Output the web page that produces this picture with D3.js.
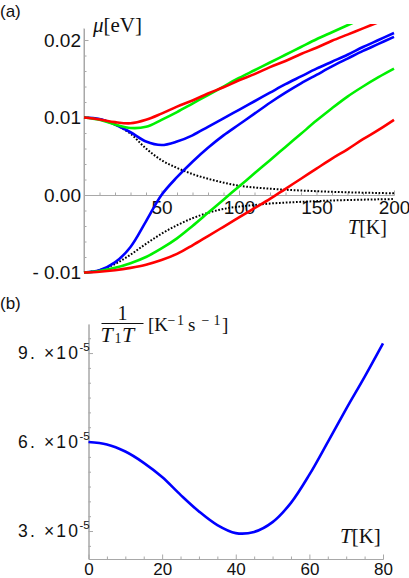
<!DOCTYPE html>
<html><head><meta charset="utf-8">
<script src="https://cdn.jsdelivr.net/npm/d3@7"></script>
<style>
body{margin:0;background:#fff}
.sans{font-family:"Liberation Sans",Arial,sans-serif;fill:#111}
.serif{font-family:"Liberation Serif","Times New Roman",serif;fill:#111}
</style>
</head><body>
<svg id="c" width="409" height="578" xmlns="http://www.w3.org/2000/svg"></svg>
<script>
// ---------- Panel (a): chemical potential mu [eV] vs T [K] ----------
const tempA   = [0,10,20,30,40,50,60,70,80,90,100,110,120,130,140,150,160,170,180,190,200];
const redUp   = [0.0100,0.00975,0.0094,0.00925,0.0097,0.0105,0.0114,0.0122,0.0131,0.0139,0.0148,0.0156,0.0165,0.0173,0.0182,0.0190,0.0199,0.0207,0.0215,0.0223,0.0231];
const greenUp = [0.0100,0.0097,0.0091,0.00865,0.0088,0.0097,0.0107,0.0118,0.0129,0.0140,0.0151,0.0161,0.0171,0.0181,0.0191,0.0201,0.0210,0.0219,0.0228,0.0237,0.0245];
const blueUp  = [0.0100,0.0098,0.0091,0.0081,0.0069,0.00645,0.0069,0.0077,0.0088,0.0099,0.0110,0.0121,0.0132,0.0143,0.0153,0.0163,0.0172,0.0181,0.0191,0.0200,0.0209];
const dotUp   = [0.0100,0.0098,0.0091,0.0079,0.0060,0.0045,0.0035,0.0027,0.0021,0.0016,0.0012,0.00097,0.00081,0.00068,0.00058,0.00049,0.00041,0.00035,0.00030,0.00026,0.00022];
const blueLow = [-0.0100,-0.0097,-0.0087,-0.0067,-0.0034,0.0000,0.0023,0.0043,0.0061,0.0077,0.0091,0.0105,0.0119,0.0132,0.0144,0.0155,0.0166,0.0176,0.0186,0.0195,0.0204];
const greenLow= [-0.0100,-0.0098,-0.0094,-0.0088,-0.0080,-0.0069,-0.0056,-0.0040,-0.0023,-0.0006,0.0011,0.0028,0.0045,0.0062,0.0079,0.0096,0.0112,0.0127,0.0140,0.0152,0.0163];
const redLow  = [-0.0100,-0.0099,-0.0097,-0.0094,-0.0090,-0.0084,-0.0076,-0.0065,-0.0053,-0.0041,-0.0029,-0.0017,-0.0005,0.0008,0.0021,0.0034,0.0047,0.0059,0.0072,0.0084,0.0097];
const dotLow  = [-0.0100,-0.0097,-0.0089,-0.0077,-0.0063,-0.0050,-0.0039,-0.0030,-0.0023,-0.0018,-0.0015,-0.0013,-0.0011,-0.00098,-0.00088,-0.00079,-0.00071,-0.00065,-0.00060,-0.00056,-0.00052];
const xTicksA = [50,100,150,200];
const xTickLabelsA = ["50","100","150","200"];
const xMinorA = [10,20,30,40,60,70,80,90,110,120,130,140,160,170,180,190];
const yTicksA = [-0.01,0,0.01,0.02];
const yTickLabelsA = ["- 0.01","0.00","0.01","0.02"];
const yMinorA = [-0.008,-0.006,-0.004,-0.002,0.002,0.004,0.006,0.008,0.012,0.014,0.016,0.018];

// ---------- Panel (b): 1/(T1 T) vs T ----------
const tempB = [0,5,10,15,20,25,30,35,40,45,50,55,60,65,70,75,80];
const rateB = [6.00e-5,5.92e-5,5.68e-5,5.30e-5,4.82e-5,4.22e-5,3.66e-5,3.20e-5,2.93e-5,2.97e-5,3.30e-5,3.95e-5,4.90e-5,6.00e-5,7.12e-5,8.20e-5,9.33e-5];
const xTicksB = [0,20,40,60,80];
const xTickLabelsB = ["0","20","40","60","80"];
const xMinorB = [5,10,15,25,30,35,45,50,55,65,70,75];
const yTicksB = [3e-5,6e-5,9e-5];
const yTickLabelsB = ["3. \u00d710","6. \u00d710","9. \u00d710"];
const yTickExpB = "-5";
const yMinorB = [2.5e-5,3.5e-5,4e-5,4.5e-5,5e-5,5.5e-5,6.5e-5,7e-5,7.5e-5,8e-5,8.5e-5,9.5e-5];

const AX = "#a8a8a8";
const svg = d3.select("#c");
const smooth = d3.curveCatmullRom.alpha(0.5);

function styleAxis(g){
  g.select(".domain").attr("stroke",AX).attr("stroke-width",1);
  g.selectAll(".tick line").attr("stroke",AX).attr("stroke-width",1);
}

// ===== Panel (a) =====
const xA = d3.scaleLinear().domain([0,200]).range([84,394]);
const yA = d3.scaleLinear().domain([-0.01,0.0215]).range([272.5,28.4]);

svg.append("defs").append("clipPath").attr("id","clipA")
  .append("rect").attr("x",80).attr("y",24).attr("width",329).attr("height",255);

const gxA = svg.append("g").attr("transform",`translate(0,${yA(0)})`);
gxA.call(d3.axisBottom(xA).tickValues(xMinorA).tickSize(-2.5).tickSizeOuter(0).tickFormat(""));
const gxA2 = svg.append("g").attr("transform",`translate(0,${yA(0)})`);
gxA2.call(d3.axisBottom(xA).tickValues(xTicksA).tickSize(-4.5).tickSizeOuter(0).tickPadding(6)
  .tickFormat((d,i)=>xTickLabelsA[i]));
[gxA,gxA2].forEach(styleAxis);
gxA2.selectAll("text").attr("class","sans").style("font-size","19px").attr("fill","#111");

const gyA = svg.append("g").attr("transform",`translate(${xA(0)},0)`);
gyA.call(d3.axisLeft(yA).tickValues(yMinorA).tickSize(-2.5).tickSizeOuter(0).tickFormat(""));
const gyA2 = svg.append("g").attr("transform",`translate(${xA(0)},0)`);
gyA2.call(d3.axisLeft(yA).tickValues(yTicksA).tickSize(-4.5).tickSizeOuter(0).tickPadding(3)
  .tickFormat((d,i)=>yTickLabelsA[i]));
[gyA,gyA2].forEach(styleAxis);
gyA2.selectAll("text").attr("class","sans").style("font-size","19px").attr("fill","#111");
gyA2.select(".domain").attr("d",`M0,${yA(-0.01)}V28.4`);

const lineA = vals => d3.line().x((d,i)=>xA(tempA[i])).y(d=>yA(d)).curve(smooth)(vals);
const gA = svg.append("g").attr("clip-path","url(#clipA)");
[[dotUp,"#000",true],[dotLow,"#000",true],
 [blueUp,"#0000ff"],[blueLow,"#0000ff"],
 [greenUp,"#00f000"],[greenLow,"#00f000"],
 [redUp,"#ff0000"],[redLow,"#ff0000"]].forEach(([v,c,dot])=>{
  gA.append("path").attr("d",lineA(v)).attr("fill","none").attr("stroke",c)
    .attr("stroke-width",dot?2:2.6)
    .attr("stroke-dasharray",dot?"1.7,1.7":null)
    .attr("stroke-linejoin","round");
});

svg.append("text").attr("class","sans").attr("x",0).attr("y",17).style("font-size","17px").text("(a)");
const muLab = svg.append("text").attr("class","serif").attr("x",93).attr("y",32).style("font-size","21px");
muLab.append("tspan").style("font-style","italic").text("\u03bc");
muLab.append("tspan").text("[eV]");
const tLabA = svg.append("text").attr("class","serif").attr("x",348).attr("y",234).style("font-size","20px");
tLabA.append("tspan").style("font-style","italic").text("T");
tLabA.append("tspan").text("[K]");

// ===== Panel (b) =====
const xB = d3.scaleLinear().domain([0,80]).range([88.5,383]);
const yB = d3.scaleLinear().domain([2.057e-5,9.98e-5]).range([559,324]);

const gxB = svg.append("g").attr("transform",`translate(0,${yB.range()[0]})`);
gxB.call(d3.axisBottom(xB).tickValues(xMinorB).tickSize(-2.5).tickSizeOuter(0).tickFormat(""));
const gxB2 = svg.append("g").attr("transform",`translate(0,${yB.range()[0]})`);
gxB2.call(d3.axisBottom(xB).tickValues(xTicksB).tickSize(-4.5).tickSizeOuter(0).tickPadding(4)
  .tickFormat((d,i)=>xTickLabelsB[i]));
[gxB,gxB2].forEach(styleAxis);
gxB2.selectAll("text").attr("class","sans").style("font-size","17px").attr("fill","#111");

const gyB = svg.append("g").attr("transform",`translate(${xB(0)},0)`);
gyB.call(d3.axisLeft(yB).tickValues(yMinorB).tickSize(-2.5).tickSizeOuter(0).tickFormat(""));
const gyB2 = svg.append("g").attr("transform",`translate(${xB(0)},0)`);
gyB2.call(d3.axisLeft(yB).tickValues(yTicksB).tickSize(-4.5).tickSizeOuter(0).tickFormat(""));
[gyB,gyB2].forEach(styleAxis);
yTicksB.forEach((v,i)=>{
  svg.append("text").attr("class","sans").attr("x",18).attr("y",yB(v)+6)
    .attr("textLength",60).attr("lengthAdjust","spacing")
    .style("font-size","17.5px").text(yTickLabelsB[i]);
  svg.append("text").attr("class","sans").attr("x",79.5).attr("y",yB(v)-2)
    .style("font-size","11.5px").text(yTickExpB);
});

const lineB = d3.line().x((d,i)=>xB(tempB[i])).y(d=>yB(d)).curve(smooth);
svg.append("path").attr("d",lineB(rateB)).attr("fill","none").attr("stroke","#0000ff")
  .attr("stroke-width",2.6).attr("stroke-linejoin","round");

svg.append("text").attr("class","sans").attr("x",0).attr("y",309).style("font-size","17px").text("(b)");
const tLabB = svg.append("text").attr("class","serif").attr("x",340).attr("y",543).style("font-size","21px");
tLabB.append("tspan").style("font-style","italic").text("T");
tLabB.append("tspan").text("[K]");

// fraction label 1/(T1 T) [K^-1 s^-1]
svg.append("text").attr("class","serif").attr("x",122.5).attr("y",320).attr("text-anchor","middle")
  .style("font-size","20px").text("1");
svg.append("line").attr("x1",101.5).attr("x2",143.5).attr("y1",323.5).attr("y2",323.5)
  .attr("stroke","#111").attr("stroke-width",1.1);
const den = svg.append("text").attr("class","serif").attr("y",341.5).style("font-size","22px");
den.append("tspan").attr("x",100.5).style("font-style","italic").text("T");
den.append("tspan").attr("x",114.5).attr("y",343).style("font-size","14px").text("1");
den.append("tspan").attr("x",122).attr("y",341.5).style("font-style","italic").text("T");
const unit = svg.append("text").attr("class","serif").attr("y",331).style("font-size","19px");
unit.append("tspan").attr("x",148).text("[K");
unit.append("tspan").attr("x",167.5).attr("y",324.5).style("font-size","14px").text("\u2212");
unit.append("tspan").attr("x",177).attr("y",324.5).style("font-size","14px").text("1");
unit.append("tspan").attr("x",188).attr("y",331).text("s");
unit.append("tspan").attr("x",201.5).attr("y",324.5).style("font-size","14px").text("\u2212");
unit.append("tspan").attr("x",213.5).attr("y",324.5).style("font-size","14px").text("1");
unit.append("tspan").attr("x",222).attr("y",331).text("]");
</script>
</body></html>
